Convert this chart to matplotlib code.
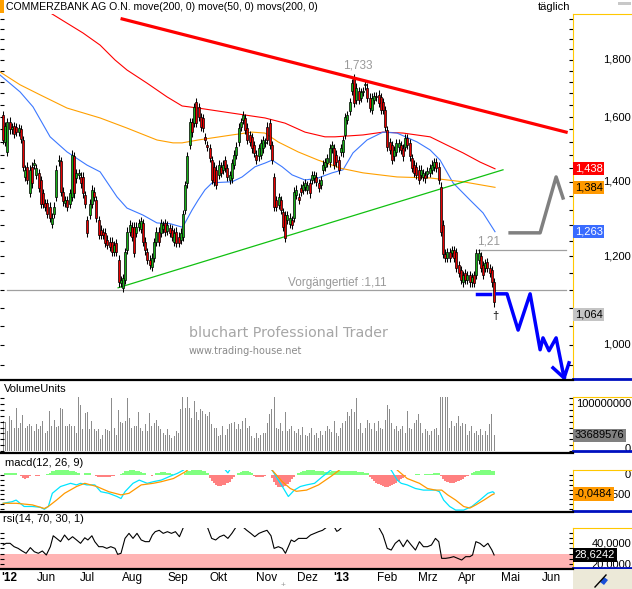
import numpy as np
import matplotlib
matplotlib.use("Agg")
import matplotlib.pyplot as plt
from matplotlib.lines import Line2D
from matplotlib.patches import Rectangle, Polygon
from matplotlib.ticker import FixedLocator, NullFormatter, NullLocator, MultipleLocator
from matplotlib.transforms import blended_transform_factory as blend

plt.rcParams['font.family'] = ['Liberation Sans', 'DejaVu Sans']

# ---------------- data ----------------
opens = [1.606, 1.52, 1.489, 1.585, 1.56, 1.57, 1.566, 1.552, 1.56, 1.526,
         1.414, 1.444, 1.368, 1.444, 1.45, 1.42, 1.426, 1.405, 1.367, 1.34,
         1.34, 1.33, 1.283, 1.31, 1.357, 1.46, 1.46, 1.372, 1.34, 1.348,
         1.338, 1.357, 1.475, 1.41, 1.42, 1.415, 1.415, 1.362, 1.294, 1.307,
         1.338, 1.372, 1.348, 1.294, 1.268, 1.262, 1.26, 1.242, 1.237, 1.237,
         1.211, 1.234, 1.192, 1.136, 1.125, 1.143, 1.216, 1.263, 1.276, 1.276,
         1.26, 1.276, 1.27, 1.286, 1.237, 1.211, 1.192, 1.175, 1.197, 1.237,
         1.263, 1.26, 1.27, 1.286, 1.265, 1.273, 1.268, 1.237, 1.263, 1.25,
         1.242, 1.25, 1.321, 1.396, 1.51, 1.584, 1.58, 1.65, 1.633, 1.60,
         1.596, 1.535, 1.51, 1.50, 1.464, 1.444, 1.435, 1.42, 1.444, 1.435,
         1.464, 1.44, 1.405, 1.41, 1.45, 1.48, 1.52, 1.568, 1.59, 1.596,
         1.565, 1.542, 1.535, 1.51, 1.48, 1.475, 1.48, 1.50, 1.517, 1.568,
         1.58, 1.51, 1.414, 1.348, 1.335, 1.348, 1.314, 1.307, 1.294, 1.283,
         1.294, 1.30, 1.362, 1.357, 1.382, 1.377, 1.386, 1.377, 1.396, 1.405,
         1.41, 1.415, 1.396, 1.391, 1.435, 1.444, 1.455, 1.457, 1.50, 1.50,
         1.48, 1.464, 1.49, 1.488, 1.542, 1.59, 1.62, 1.69, 1.733, 1.657,
         1.688, 1.665, 1.685, 1.708, 1.70, 1.665, 1.623, 1.657, 1.67, 1.675,
         1.668, 1.65, 1.623, 1.558, 1.52, 1.51, 1.475, 1.49, 1.503, 1.51,
         1.50, 1.505, 1.532, 1.517, 1.47, 1.45, 1.444, 1.435, 1.42, 1.414,
         1.42, 1.423, 1.426, 1.435, 1.444, 1.457, 1.444, 1.386, 1.281, 1.207,
         1.197, 1.211, 1.209, 1.216, 1.211, 1.179, 1.167, 1.138, 1.16, 1.143,
         1.155, 1.138, 1.155, 1.155, 1.192, 1.20, 1.179, 1.172, 1.186, 1.172,
         1.167, 1.138]
closes = [1.526, 1.57, 1.584, 1.56, 1.566, 1.545, 1.552, 1.563, 1.53, 1.444,
          1.435, 1.405, 1.435, 1.396, 1.455, 1.44, 1.382, 1.338, 1.338, 1.33,
          1.31, 1.30, 1.30, 1.33, 1.435, 1.465, 1.372, 1.345, 1.348, 1.33,
          1.367, 1.48, 1.367, 1.425, 1.425, 1.396, 1.367, 1.338, 1.26, 1.338,
          1.377, 1.357, 1.30, 1.255, 1.255, 1.255, 1.234, 1.229, 1.224, 1.211,
          1.229, 1.211, 1.138, 1.143, 1.148, 1.211, 1.263, 1.281, 1.25, 1.209,
          1.276, 1.286, 1.29, 1.237, 1.215, 1.192, 1.179, 1.197, 1.236, 1.263,
          1.237, 1.286, 1.28, 1.263, 1.28, 1.26, 1.25, 1.26, 1.234, 1.234,
          1.26, 1.31, 1.391, 1.475, 1.584, 1.55, 1.633, 1.58, 1.60, 1.568,
          1.565, 1.526, 1.505, 1.47, 1.405, 1.40, 1.391, 1.45, 1.426, 1.45,
          1.44, 1.414, 1.42, 1.455, 1.48, 1.505, 1.565, 1.584, 1.606, 1.558,
          1.526, 1.52, 1.50, 1.487, 1.464, 1.50, 1.517, 1.526, 1.52, 1.526,
          1.51, 1.464, 1.33, 1.33, 1.357, 1.321, 1.276, 1.247, 1.307, 1.30,
          1.281, 1.372, 1.377, 1.348, 1.372, 1.391, 1.396, 1.391, 1.367, 1.42,
          1.42, 1.40, 1.382, 1.405, 1.45, 1.457, 1.47, 1.50, 1.51, 1.45,
          1.457, 1.435, 1.50, 1.526, 1.60, 1.606, 1.65, 1.716, 1.647, 1.70,
          1.657, 1.685, 1.688, 1.712, 1.665, 1.63, 1.665, 1.67, 1.668, 1.647,
          1.623, 1.623, 1.568, 1.505, 1.495, 1.464, 1.495, 1.517, 1.517, 1.495,
          1.475, 1.532, 1.51, 1.475, 1.44, 1.426, 1.42, 1.405, 1.435, 1.426,
          1.41, 1.43, 1.44, 1.45, 1.457, 1.44, 1.405, 1.263, 1.207, 1.197,
          1.211, 1.197, 1.216, 1.197, 1.172, 1.16, 1.143, 1.155, 1.143, 1.155,
          1.138, 1.15, 1.136, 1.209, 1.209, 1.172, 1.155, 1.184, 1.172, 1.16,
          1.138, 1.092]

# volume in millions of shares
volume_mio = [64, 62, 43, 74, 66, 50, 91, 50, 60, 76, 50, 53, 57, 53, 43, 57, 46, 53, 64, 39,
              43, 86, 53, 66, 51, 53, 92, 89, 53, 53, 57, 53, 53, 39, 119, 99, 46, 80, 82, 46,
              64, 46, 43, 46, 26, 35, 46, 45, 43, 112, 50, 35, 87, 62, 60, 64, 112,
              71, 50, 53, 53, 82, 50, 43, 57, 43, 80, 53, 60, 67, 53, 46, 39, 35, 46, 35, 28,
              32, 43, 39, 89,
              119, 92, 119, 92, 71, 106, 82, 67, 89, 85, 78, 74, 82, 57, 50, 50, 32, 35, 53, 35,
              46, 57, 60, 62, 46, 57, 46, 64, 71, 50, 53, 32, 28, 39, 28, 35, 39, 39, 60, 78, 89,
              114, 50, 46, 60, 43, 83, 43, 46, 53, 43, 39, 47, 35, 51, 35, 33, 39, 50, 35, 39,
              28, 43, 35, 43, 53, 46, 40, 64, 39, 32, 50, 60, 64, 82, 74, 89, 82,
              112, 46, 60, 39, 50, 67, 60, 46, 60, 43, 64, 50, 46, 67,
              99, 89, 60, 46, 53, 43, 46, 53, 39, 85, 50, 46, 60, 67, 78, 60, 39, 46, 43, 35,
              43, 46, 50, 35,
              119, 121, 121, 119, 50, 64, 53, 60, 74, 53, 60, 57, 35, 43, 53, 39, 43, 35, 46, 35,
              43, 35, 57, 78, 33.69]

# macd histogram (x 0.001)
hist_milli = [0, 3, 4, 5, 5, 4, 3, 0, -4, -8, -10, -8, -4, 0, -2, -3, -3, -2, 0, 0,
              2, 5, 8, 10, 11, 11, 11, 11, 11, 11, 10, 10, 8, 6, 4, 0, 0, 3, 4, 3,
              0, -2, -4, -5, -6, -6, -6, -5, -5, -4, -3, -2, 0, 2, 5, 8, 10, 11, 11, 11,
              10, 9, 7, 5, 3, 0, -2, -3, -2, 3, 5, 6, 6, 6, 5, 4, 2, -1, -2, -2,
              -1, 0, 4, 8, 10, 11, 11, 11, 11, 11, 10, 8, 5, -8, -15, -22, -26, -28, -28, -27,
              -25, -22, -18, -12, -5, 0, 4, 7, 8, 8, 8, 7, 4, -3, -5, -6, -6, -5, -4, -2,
              0, -8, -18, -26, -30, -30, -30, -28, -24, -18, -12, -6, -2, 4, 7, 9, 10, 11, 11, 11,
              11, 10, 10, 9, 8, 7, 6, 6, 8, 8, 8, 8, 9, 9, 9, 9, 9, 8, 8, 8,
              7, 7, 6, 5, 3, -5, -10, -15, -20, -24, -27, -29, -30, -30, -29, -27, -24, -20, -16, -12,
              -8, -4, -2, -1, 0, 0, 1, 1, 0, 0, 1, 1, 2, 2, 4, 4, 3, -4, -10, -15,
              -18, -20, -20, -20, -18, -16, -13, -10, -6, -3, 0, 3, 6, 8, 10, 11, 11, 11, 11, 11,
              10, 9]

ma200_x = [-1.35, 22.1, 36.0, 43.7, 50.4, 55.8, 64.8, 73.8, 80.6, 87.8, 103.1, 117.9,
           126.9, 135.9, 144.9, 149.4, 162.0, 171.0, 180.0, 192.2, 199.8, 207.0, 214.7, 221.4]
ma200_y = [2.11, 1.979, 1.903, 1.856, 1.800, 1.763, 1.716, 1.668, 1.637, 1.630, 1.613, 1.597,
           1.580, 1.551, 1.536, 1.536, 1.542, 1.551, 1.548, 1.536, 1.510, 1.486, 1.458, 1.438]

ma50_x = [-1.35, 7.7, 13.5, 21.2, 28.8, 37.8, 43.7, 51.3, 55.8, 63.0, 69.3, 75.2, 80.6, 81.9,
          85.1, 87.8, 90.9, 94.1, 103.1, 107.6, 113.4, 117.9, 121.1, 125.6, 130.1, 135.9, 141.8,
          148.1, 153.0, 157.5, 163.8, 171.0, 177.3, 186.3, 192.2, 196.7, 202.5, 210.2, 216.0, 221.4]
ma50_y = [1.745, 1.685, 1.634, 1.536, 1.489, 1.449, 1.429, 1.357, 1.326, 1.307, 1.286, 1.284,
          1.275, 1.286, 1.321, 1.348, 1.377, 1.397, 1.400, 1.414, 1.444, 1.455, 1.464, 1.444,
          1.420, 1.405, 1.411, 1.426, 1.435, 1.486, 1.526, 1.551, 1.548, 1.520, 1.495, 1.464,
          1.397, 1.348, 1.313, 1.263]

movs_x = [-1.35, 7.7, 16.7, 28.8, 43.7, 55.8, 69.3, 76.5, 80.6, 87.8, 103.1, 112.1, 117.9,
          123.8, 132.8, 141.8, 149.4, 151.7, 162.0, 177.3, 192.2, 207.0, 221.4]
movs_y = [1.756, 1.710, 1.675, 1.630, 1.597, 1.564, 1.526, 1.517, 1.517, 1.526, 1.542, 1.551,
          1.548, 1.520, 1.489, 1.464, 1.446, 1.440, 1.426, 1.414, 1.411, 1.400, 1.384]

macd_x = [0.1, 4.1, 5.9, 7.7, 9.5, 13.2, 16.8, 18.6, 20.4, 22.2, 25.9, 30.4, 33.1, 34.9, 37.7,
          41.3, 44.0, 47.6, 51.3, 53.1, 54.9, 58.5, 61.3, 63.1, 64.9, 67.6, 71.2, 74.9, 78.5,
          81.2, 85, 98, 101.2, 103.5, 114, 121.1, 123.9, 125.7, 128.4, 131.1, 133.8, 136.6,
          140.2, 143.8, 147.5, 152, 170, 174.7, 177.4, 179.2, 181.9, 185.6, 189.2, 194.6, 196.4,
          198.3, 201.0, 203.7, 207.3, 211.0, 214.6, 218.2, 220.4, 221]
macd_milli = [-72, -68, -64, -72, -80, -80, -82, -87, -80, -47, -30, -22, -26, -22, -26,
              -26, -43, -47, -55, -60, -43, -22, -14, -18, -22, -18, -14, -5, 3,
              11, 30, 25, 4, 25, 35, 11, -14, -30, -55, -39, -30, -26,
              -22, -5, 11, 30, 30, 11, -14, -22, -26, -35, -39, -39, -43,
              -64, -80, -89, -89, -80, -64, -47, -43, -46]
signal_x = [0.1, 5.9, 13.2, 18.6, 20.4, 24.1, 27.7, 33.1, 36.8, 42.2, 47.6, 53.1, 56.7, 62.2,
            67.6, 71.2, 76.7, 82.1, 87, 118, 121.1, 125.7, 129.3, 132.0, 136.6, 142.0, 147.5,
            151.1, 156, 175, 177.4, 181.9, 187.4, 191.0, 194.6, 197.4, 200.1, 203.7, 207.3,
            210.1, 212.8, 216.4, 220.0, 221]
signal_milli = [-72, -72, -76, -85, -80, -64, -47, -30, -22, -30, -43, -51, -47, -26,
                -22, -18, -10, 7, 30, 30, 11, -18, -35, -42, -39, -26, -5,
                10, 30, 30, 11, -10, -22, -35, -39, -39, -51, -64, -80,
                -84, -76, -64, -51, -48.4]

rsi_x = [0.1, 1.4, 3.2, 5.0, 6.8, 8.6, 10.4, 12.3, 14.1, 15.9,
         17.7, 19.5, 21.3, 22.6, 24.1, 25.9, 27.7, 29.5, 31.3, 33.1,
         34.9, 36.8, 38.2, 40.0, 41.3, 43.1, 44.9, 46.7, 48.5, 50.4,
         51.6, 53.1, 54.9, 56.7, 58.5, 60.3, 62.2, 64.0, 65.8, 67.2,
         68.5, 70.3, 72.1, 74.0, 75.8, 77.6, 79.4, 81.2, 84.0, 89.0,
         92.1, 93.9, 95.7, 97.5, 99.4, 101.2, 103.0, 104.8, 106.5, 108.4,
         109.7, 111.5, 113.3, 115.2, 117.0, 118.8, 120.6, 122.0, 123.9, 125.7,
         127.1, 128.4, 129.7, 131.1, 133.0, 134.8, 136.6, 138.4, 140.2, 142.0,
         143.8, 145.6, 147.5, 149.3, 150.2, 151.1, 152.5, 155.0, 165.0, 169.2,
         171.0, 172.9, 174.7, 176.5, 178.3, 180.1, 181.9, 183.7, 185.6, 187.4,
         189.2, 191.0, 192.8, 194.6, 196.1, 197.4, 199.2, 201.0, 202.8, 204.6,
         206.4, 208.2, 210.1, 211.3, 212.8, 214.6, 216.4, 218.2, 220.0, 221.0]
rsi_v = [38.1, 39.7, 39.7, 36.5, 34.9, 32.4, 30.2, 35.6, 31.7, 30.2,
         32.4, 28.6, 36.5, 46.9, 44.4, 41.3, 47.6, 42.9, 46.0, 42.9,
         39.7, 45.0, 42.9, 46.9, 41.3, 36.5, 36.5, 34.9, 36.5, 34.9,
         29.2, 30.2, 44.4, 49.2, 44.4, 49.2, 42.9, 41.3, 41.3, 47.6,
         50.8, 52.1, 49.2, 50.8, 49.2, 50.8, 46.0, 55.0, 60.0, 60.0,
         54.5, 44.4, 42.9, 46.0, 47.6, 44.4, 49.2, 55.0, 58.0, 54.5,
         52.1, 49.2, 46.0, 49.2, 50.8, 52.1, 46.9, 34.9, 36.5, 34.9,
         30.2, 36.5, 42.9, 41.3, 44.4, 44.4, 44.4, 47.6, 49.2, 50.8,
         52.1, 55.0, 57.0, 54.5, 51.1, 52.1, 55.0, 62.0, 62.0, 54.5,
         47.6, 34.9, 33.3, 39.7, 42.9, 36.5, 42.9, 38.1, 33.3, 41.3,
         36.5, 36.5, 38.1, 44.4, 41.3, 25.4, 25.4, 26.0, 27.0, 25.4,
         23.8, 27.0, 27.0, 28.6, 41.3, 39.7, 36.5, 39.7, 33.3, 28.6]

month_pos = [2.7, 19.5, 38.1, 58.1, 78.8, 97.1, 118.7, 137.2, 152.4, 172.7, 191.3, 208.7, 228.2, 246.8]
month_lbl = ["'12", 'Jun', 'Jul', 'Aug', 'Sep', 'Okt', 'Nov', 'Dez', "'13", 'Feb', 'Mrz', 'Apr', 'Mai', 'Jun']

# drawn trend lines and projections
resist_x, resist_y = [53.6, 253.4], [1.959, 1.551]
support_x, support_y = [51.8, 225.0], [1.125, 1.435]
prior_low, prior_low_x = 1.12, [1.8, 253.4]
level_121, level_x = 1.216, [213.8, 253.4]
dash_x, dash_y = [213.3, 219.2], [1.111, 1.111]
down_x = [222.3, 226.8, 231.8, 237.2, 241.7, 243.0, 245.7, 248.9, 252.5, 254.7]
down_y = [1.111, 1.111, 1.031, 1.111, 0.990, 1.0145, 0.988, 1.0145, 0.934, 0.9636]
wing_x, wing_y = [247.5, 252.5], [0.9537, 0.934]
up_x, up_y = [228.2, 241.7, 248.9, 252.0], [1.260, 1.260, 1.414, 1.354]

# ---------------- figure ----------------
W, H = 632, 589
fig = plt.figure(figsize=(W / 100, H / 100), dpi=100)
fig.patch.set_facecolor('white')
XL = (-1.35, 256.5)
FS = 8


def px_rect(x0, y0, x1, y1):
    return [x0 / W, 1 - y1 / H, (x1 - x0) / W, (y1 - y0) / H]


def style_left(a, locator):
    for s in a.spines.values():
        s.set_visible(False)
    a.set_xlim(*XL)
    a.set_xticks([])
    a.yaxis.set_major_locator(locator)
    a.yaxis.set_minor_locator(NullLocator())
    a.yaxis.set_major_formatter(NullFormatter())
    a.yaxis.set_minor_formatter(NullFormatter())
    a.tick_params(axis='y', which='both', direction='in', length=3, width=0.8,
                  left=True, right=False, labelleft=False)


def style_right(a, locator):
    a.set_xlim(0, 1)
    a.set_xticks([])
    a.spines['right'].set_visible(False)
    a.spines['top'].set_color('#ffc800')
    a.spines['left'].set_color('#ffc800')
    a.spines['bottom'].set_color('#0010c0')
    a.spines['bottom'].set_linewidth(2)
    a.yaxis.set_major_locator(locator)
    a.yaxis.set_minor_locator(NullLocator())
    a.yaxis.set_major_formatter(NullFormatter())
    a.yaxis.set_minor_formatter(NullFormatter())
    a.tick_params(axis='y', which='both', direction='out', length=3, width=0.8,
                  left=True, right=False, labelleft=False)


def label(a, v, text):
    a.text(0.985, v, text, transform=blend(a.transAxes, a.transData), ha='right',
           va='center', fontsize=FS, clip_on=False, zorder=2)


def value_box(a, v, text, bg, fg):
    a.text(0.03, v, text, transform=blend(a.transAxes, a.transData), ha='left', va='center',
           fontsize=FS, color=fg, zorder=5, clip_on=False,
           bbox=dict(boxstyle='square,pad=0.15', fc=bg, ec='none'))


# ---- price panel ----
ax = fig.add_axes(px_rect(0, 14, 573, 379))
axr = fig.add_axes(px_rect(573, 14, 632, 379))
for a in (ax, axr):
    a.set_yscale('log')
    a.set_ylim(0.932, 1.979)
style_left(ax, FixedLocator(np.arange(0.96, 1.98, 0.04)))
style_right(axr, FixedLocator(np.arange(0.96, 1.98, 0.04)))

o = np.array(opens)
c = np.array(closes)
idx = np.arange(len(c))
top = np.maximum(o, c)
bot = np.minimum(o, c)
wick = 1.009
ax.vlines(idx, bot / wick, top * wick, color='black', lw=0.75, zorder=3)
body = np.maximum(top - bot, 0.003)
cols = np.where(c >= o, '#18b018', '#e80000')
ax.bar(idx, body, bottom=bot, width=0.9, color=cols, edgecolor='black', linewidth=0.5, zorder=4)

ax.plot(ma200_x, ma200_y, color='#ff0000', lw=0.8, zorder=2)
ax.plot(ma50_x, ma50_y, color='#3c78ff', lw=0.8, zorder=2)
ax.plot(movs_x, movs_y, color='#ffa000', lw=0.8, zorder=2)
ax.plot(resist_x, resist_y, color='#ff0000', lw=2.3, zorder=5)
ax.plot(support_x, support_y, color='#10c010', lw=0.9, zorder=2)
ax.plot(prior_low_x, [prior_low] * 2, color='#a0a0a0', lw=0.9, zorder=2)
ax.plot(level_x, [level_121] * 2, color='#a0a0a0', lw=0.9, zorder=2)
ax.plot(dash_x, dash_y, color='#0000ff', lw=2.5, zorder=5)
ax.plot(down_x, down_y, color='#0000ff', lw=2.5, zorder=5)
ax.plot(wing_x, wing_y, color='#0000ff', lw=2.5, zorder=5)
ax.plot(up_x, up_y, color='#808080', lw=2.5, zorder=5)

ax.text(159.8, 1.781, '1,733', color='#999999', ha='center', va='center', fontsize=FS + 0.5)
ax.text(218.7, 1.237, '1,21', color='#999999', ha='center', va='center', fontsize=FS + 0.5)
ax.text(150.3, 1.137, 'Vorgängertief :1,11', color='#999999', ha='center', va='center',
        fontsize=FS + 0.5)
ax.text(221.4, 1.062, '\u2020', color='black', ha='center', va='center', fontsize=FS)

fig.text(189 / W, 1 - 333 / H, 'bluchart Professional Trader', family='DejaVu Sans',
         fontsize=10.3, color='#a6a6a6', va='center')
fig.text(189 / W, 1 - 351 / H, 'www.trading-house.net', family='DejaVu Sans',
         fontsize=7, color='#8a8a8a', va='center')

for v in (1.0, 1.2, 1.4, 1.6, 1.8):
    label(axr, v, f'{v:.3f}'.replace('.', ','))
value_box(axr, 1.438, '1,438', '#ff0000', 'white')
value_box(axr, 1.384, '1,384', '#ff9900', 'black')
value_box(axr, 1.263, '1,263', '#3a6cff', 'white')
value_box(axr, 1.064, '1,064', '#c4c4c4', 'black')

# ---- volume panel ----
axv = fig.add_axes(px_rect(0, 397, 573, 451))
axvr = fig.add_axes(px_rect(573, 397, 632, 451))
for a in (axv, axvr):
    a.set_ylim(0, 115)
style_left(axv, MultipleLocator(12.5))
style_right(axvr, MultipleLocator(12.5))
axv.bar(np.arange(len(volume_mio)), volume_mio, width=0.45, color='#8c8c8c')
label(axvr, 100, '100000000')
label(axvr, 5, '0')
value_box(axvr, 33.69, '33689576', '#808080', 'black')

# ---- macd panel ----
axm = fig.add_axes(px_rect(0, 470, 573, 511))
axmr = fig.add_axes(px_rect(573, 470, 632, 511))
for a in (axm, axmr):
    a.set_ylim(-0.0913, 0.0113)
style_left(axm, MultipleLocator(0.0125))
style_right(axmr, MultipleLocator(0.0125))
h = np.array(hist_milli) / 1000.0
axm.bar(np.arange(len(h)), h, width=1.0, color=np.where(h >= 0, '#80ff80', '#ff8080'))
axm.plot(macd_x, np.array(macd_milli) / 1000.0, color='#00e5ff', lw=0.9)
axm.plot(signal_x, np.array(signal_milli) / 1000.0, color='#ff9900', lw=0.9)
label(axmr, 0, '0')
label(axmr, -0.05, '-0,0500')
axmr.add_patch(Rectangle((0.0, -0.0425), 0.56, 0.006, fc='#00e5ff', ec='none', zorder=4,
                         clip_on=False))
value_box(axmr, -0.0484, '-0,0484', '#ff9900', 'black')

# ---- rsi panel ----
axs = fig.add_axes(px_rect(0, 528, 573, 568))
axsr = fig.add_axes(px_rect(573, 528, 632, 568))
for a in (axs, axsr):
    a.set_ylim(16.2, 54.3)
style_left(axs, MultipleLocator(5))
style_right(axsr, MultipleLocator(5))
axs.axhspan(0, 30, color='#ffb4b4', lw=0)
axs.plot(rsi_x, rsi_v, color='black', lw=0.8)
label(axsr, 40, '40,0000')
label(axsr, 20, '20,0000')
value_box(axsr, 28.6242, '28,6242', 'black', 'white')


# ---- panel separators ----
def hline(y, x0, x1, color, lw):
    fig.add_artist(Line2D([x0 / W, x1 / W], [1 - y / H] * 2, color=color, lw=lw))


for y in (380, 453, 511.5, 568.5):
    hline(y, 0, 573, 'black', 1.6)

# ---- texts: title, panel names ----
fig.add_artist(Rectangle((0, 1 - 13 / H), 4 / W, 13 / H, transform=fig.transFigure,
                         fc='#ffa000', ec='none'))
fig.add_artist(Rectangle((618 / W, 1 - 5 / H), 13 / W, 3 / H, transform=fig.transFigure,
                         fc='#c8c8c8', ec='none'))
fig.text(6 / W, 1 - 7.5 / H, 'COMMERZBANK AG O.N. move(200, 0) move(50, 0) movs(200, 0)',
         fontsize=7.6, va='center')
fig.text(570 / W, 1 - 7.5 / H, 'täglich', fontsize=FS, va='center', ha='right')
fig.text(4 / W, 1 - 389.5 / H, 'VolumeUnits', fontsize=FS, va='center')
fig.text(5 / W, 1 - 463 / H, 'macd(12, 26, 9)', fontsize=FS, va='center')
fig.text(3 / W, 1 - 519.5 / H, 'rsi(14, 70, 30, 1)', fontsize=FS, va='center')

# ---- date axis ----
tr = blend(axs.transData, fig.transFigure)
for pos, lbl in zip(month_pos, month_lbl):
    axs.text(pos, 1 - 578 / H, lbl, transform=tr, ha='center', va='center', fontsize=FS + 0.5,
             fontweight='bold' if lbl.startswith("'") else 'normal', clip_on=False)
fig.text(283 / W, 1 - 585 / H, '+', fontsize=6, color='#999999', ha='center', va='center')

# corner tool icon
fig.add_artist(Rectangle((573 / W, 0), 59 / W, 20 / H, transform=fig.transFigure,
                         fc='#ece9d8', ec='none'))
fig.add_artist(Line2D([595 / W, 606 / W], [1 - 587 / H, 1 - 575 / H], color='black', lw=1))
fig.add_artist(Polygon([[600 / W, 1 - 582 / H], [604 / W, 1 - 577 / H], [608 / W, 1 - 580 / H],
                        [604 / W, 1 - 585 / H]], closed=True, transform=fig.transFigure,
                       fc='#1a4fd8', ec='none'))

fig.savefig('out.png', dpi=100)
